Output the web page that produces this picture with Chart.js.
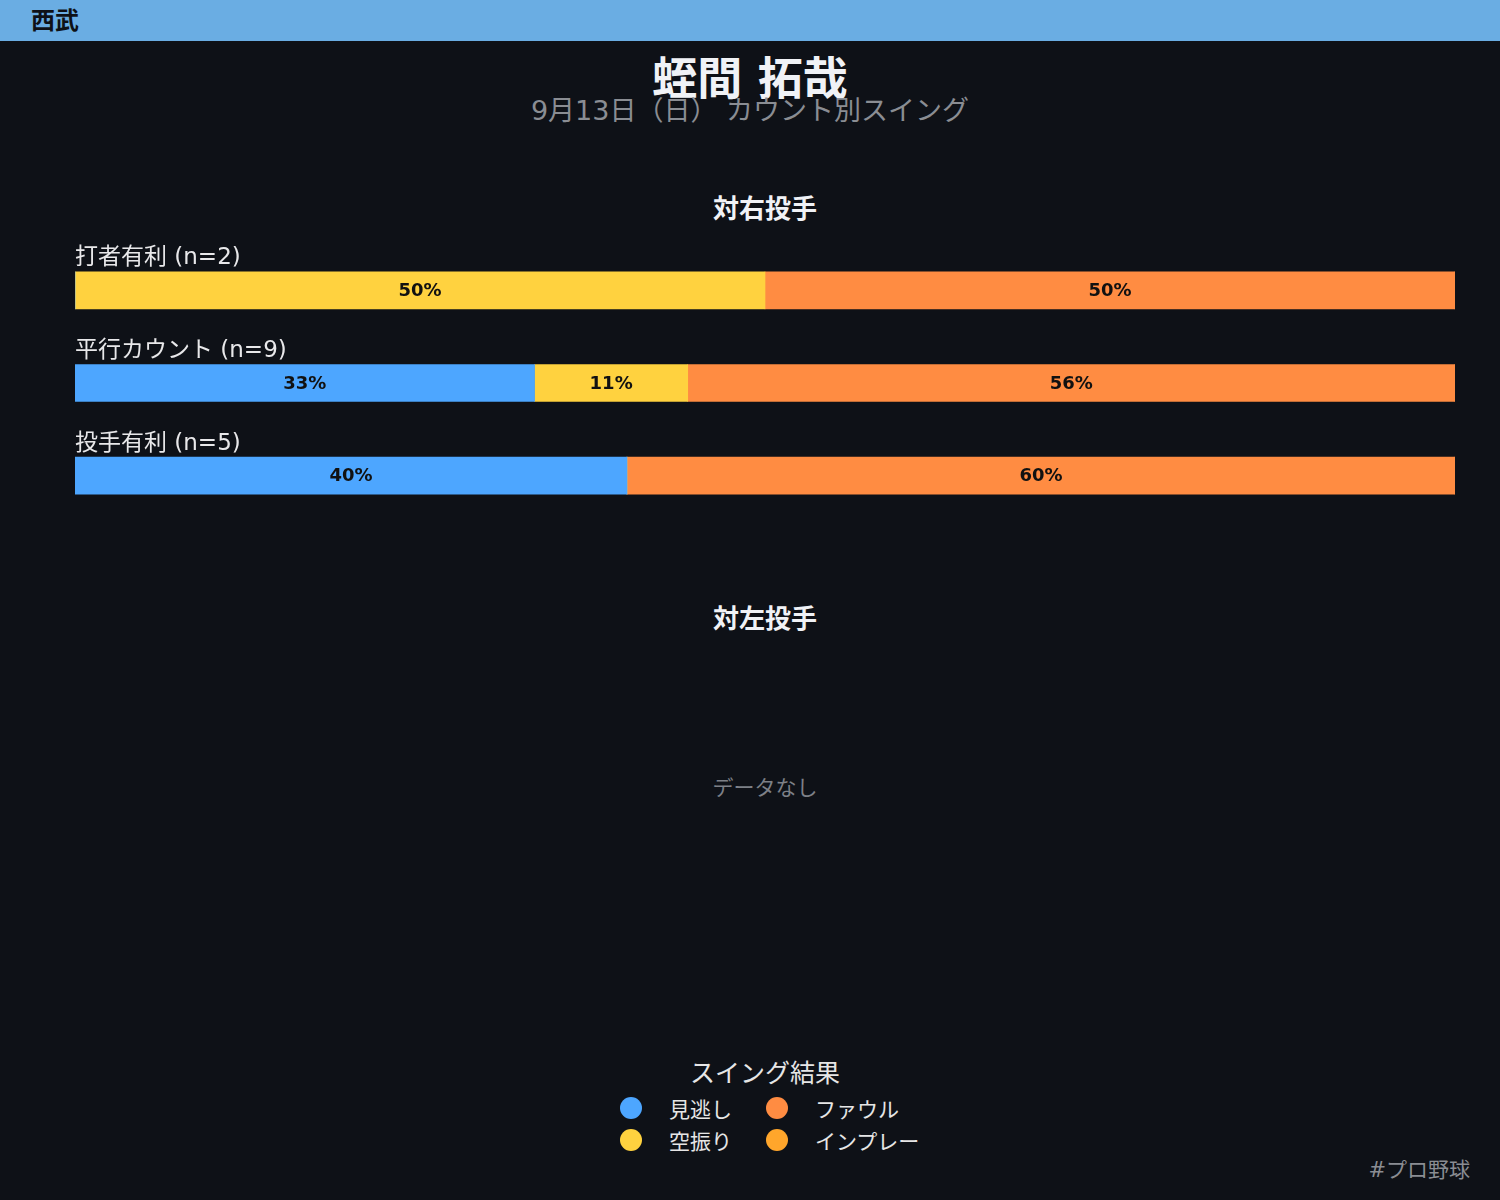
<!DOCTYPE html>
<html><head><meta charset="utf-8">
<script src="https://cdn.jsdelivr.net/npm/chart.js@4"></script>
<style>
html,body{margin:0;padding:0;background:#0e1117;width:1500px;height:1200px;overflow:hidden;font-family:"DejaVu Sans","Noto Sans CJK JP",sans-serif;}
.abs{position:absolute;white-space:pre;line-height:1;}
.cx{transform:translate(-50%,-50%);}
#header{position:absolute;left:0;top:0;width:1500px;height:41px;background:#6aade3;}
#team{left:31px;top:21px;transform:translateY(-50%);font-size:24px;font-weight:bold;color:#0e1117;}
#title{left:750px;top:79px;font-size:45px;font-weight:bold;color:#f0f2f6;}
#subtitle{left:750px;top:110px;font-size:27px;color:#8a8d93;}
.sec{font-size:26px;font-weight:bold;color:#f0f2f6;}
#nodata{left:765px;top:788px;font-size:21px;color:#7d8087;}
#chartWrap{position:absolute;left:75px;top:244px;width:1380px;height:278px;}
#legTitle{left:765px;top:1073px;font-size:25px;color:#e6e6e6;}
#legend{position:absolute;left:620px;top:1092px;display:grid;grid-auto-flow:column;grid-template-rows:32px 32px;grid-template-columns:146px 160px;}
.li{display:flex;align-items:center;height:32px;font-size:21px;color:#e6e6e6;}
.dot{width:22px;height:22px;border-radius:50%;margin-right:27px;flex:none;}
#tag{right:30px;top:1170px;transform:translateY(-50%);font-size:21px;color:#8a8d93;}
</style></head>
<body>
<div id="header"></div>
<div id="team" class="abs">西武</div>
<div id="title" class="abs cx">蛭間 拓哉</div>
<div id="subtitle" class="abs cx">9月13日（日） カウント別スイング</div>
<div id="secR" class="abs cx sec" style="left:765px;top:209px;">対右投手</div>
<div id="chartWrap"><canvas id="c"></canvas></div>
<div id="secL" class="abs cx sec" style="left:765px;top:619px;">対左投手</div>
<div id="nodata" class="abs cx">データなし</div>
<div id="legTitle" class="abs cx">スイング結果</div>
<div id="legend"></div>
<div id="tag" class="abs">#プロ野球</div>
<script>
// ---- data ----
const categories = ["打者有利 (n=2)", "平行カウント (n=9)", "投手有利 (n=5)"];
const seriesNames = ["見逃し", "空振り", "ファウル", "インプレー"];
const seriesColors = ["#4da6ff", "#ffd23f", "#ff8c42", "#ffa62b"];
const minogashi = [0, 33.3, 40];
const karaburi = [50, 11.1, 0];
const foul = [50, 55.6, 60];
const inplay = [0, 0, 0];
const seriesValues = [minogashi, karaburi, foul, inplay];

// legend (HTML, column-major)
const leg = document.getElementById('legend');
seriesNames.forEach((n, i) => {
  const d = document.createElement('div');
  d.className = 'li';
  d.innerHTML = '<span class="dot" style="background:' + seriesColors[i] + '"></span><span>' + n + '</span>';
  leg.appendChild(d);
});

const labelPlugin = {
  id: 'labels',
  afterDatasetsDraw(chart) {
    const ctx = chart.ctx;
    const ys = chart.scales.y;
    ctx.save();
    // category labels above bars
    ctx.font = '23px "DejaVu Sans", "Noto Sans CJK JP"';
    ctx.fillStyle = '#e8e8ea';
    ctx.textAlign = 'left';
    ctx.textBaseline = 'middle';
    categories.forEach((c, i) => {
      ctx.fillText(c, chart.chartArea.left, ys.getPixelForValue(i) - 32);
    });
    // value labels
    ctx.font = 'bold 18px "DejaVu Sans"';
    ctx.fillStyle = '#111111';
    ctx.textAlign = 'center';
    chart.data.datasets.forEach((ds, di) => {
      const meta = chart.getDatasetMeta(di);
      meta.data.forEach((el, i) => {
        const v = ds.data[i];
        if (!v) return;
        const x = (el.x + el.base) / 2;
        ctx.fillText(Math.round(v) + '%', x, el.y + 1);
      });
    });
    ctx.restore();
  }
};

new Chart(document.getElementById('c'), {
  type: 'bar',
  data: {
    labels: categories,
    datasets: seriesNames.map((n, i) => ({
      label: n,
      data: seriesValues[i],
      backgroundColor: seriesColors[i],
      borderWidth: 0,
      barThickness: 37
    }))
  },
  options: {
    indexAxis: 'y',
    responsive: true,
    maintainAspectRatio: false,
    animation: false,
    layout: { padding: 0 },
    plugins: { legend: { display: false }, tooltip: { enabled: false } },
    scales: {
      x: { stacked: true, min: 0, max: 100, display: false },
      y: { stacked: true, display: false, offset: true }
    }
  },
  plugins: [labelPlugin]
});
</script>
</body></html>
